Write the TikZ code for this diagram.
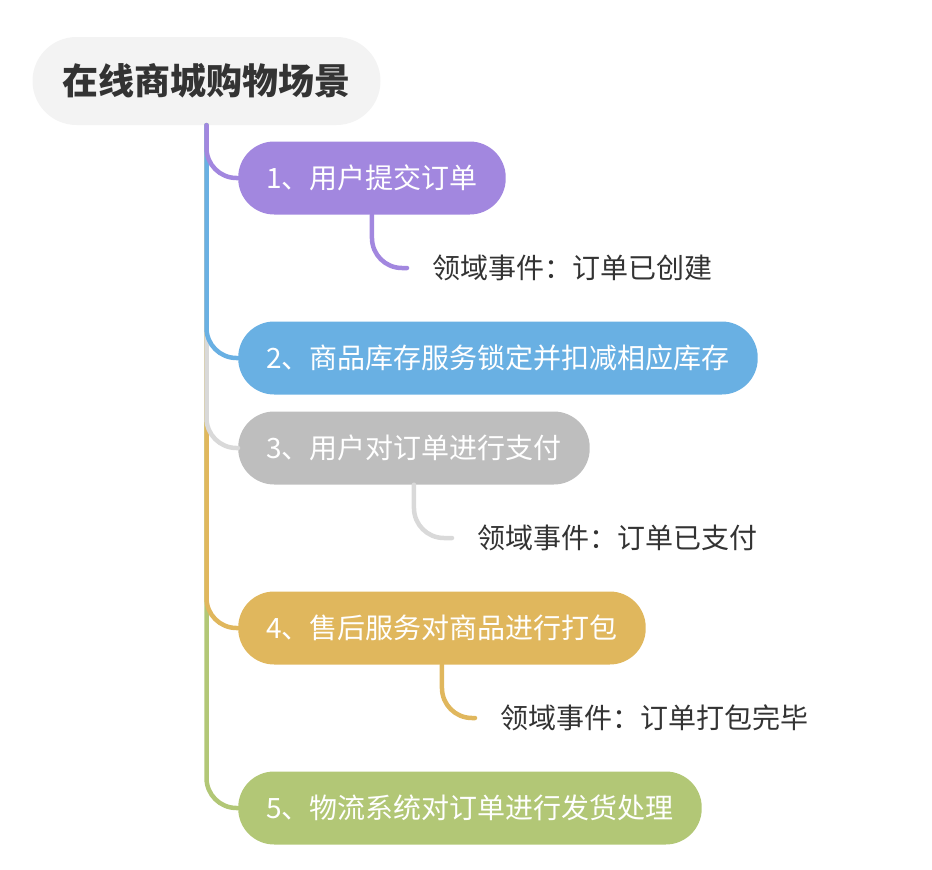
\documentclass[tikz,border=0pt]{standalone}
\usepackage{fontspec}
\usepackage{xcolor}
\newfontfamily\cjk{Noto Sans CJK SC}
\definecolor{rootbg}{HTML}{F3F3F3}
\definecolor{ink}{HTML}{333333}
\definecolor{purp}{HTML}{A287DF}
\definecolor{sky}{HTML}{69B0E3}
\definecolor{ash}{HTML}{BEBEBE}
\definecolor{ashline}{HTML}{D9D9D9}
\definecolor{gold}{HTML}{E0B75D}
\definecolor{leafgreen}{HTML}{B2C776}

\begin{document}
\begin{tikzpicture}[x=1pt,y=-1pt,
  root/.style={fill=rootbg,rounded corners=44pt,minimum height=88pt,inner xsep=30pt,
    text=ink,font=\cjk\bfseries\fontsize{36}{40}\selectfont},
  branch/.style={fill=#1,rounded corners=36pt,minimum height=73pt,inner xsep=28pt,
    anchor=west,text=white,font=\cjk\fontsize{28}{32}\selectfont},
  leaf/.style={anchor=west,inner xsep=25pt,text=ink,font=\cjk\fontsize{28}{32}\selectfont},
  link/.style={draw=#1,line width=4.5pt,line cap=round,rounded corners=30pt}]
\useasboundingbox (0,0) rectangle (932,870);

% main topic and branches
\node[root] (root) at (206.5,81) {在线商城购物场景};
\node[branch=purp] (n1) at (238,178) {1、用户提交订单};
\node[branch=sky] (n2) at (238,358) {2、商品库存服务锁定并扣减相应库存};
\node[branch=ash] (n3) at (238,448) {3、用户对订单进行支付};
\node[branch=gold] (n4) at (238,628) {4、售后服务对商品进行打包};
\node[branch=leafgreen] (n5) at (238,808) {5、物流系统对订单进行发货处理};

% events
\node[leaf] (e1) at (407,268) {领域事件：订单已创建};
\node[leaf] (e3) at (452,538) {领域事件：订单已支付};
\node[leaf] (e4) at (475,718) {领域事件：订单打包完毕};

% trunk, last branch first so the upper ones lie on top
\draw[link=leafgreen] (root.south) |- (n5.west);
\draw[link=gold] (root.south) |- (n4.west);
\draw[link=ashline] (root.south) |- (n3.west);
\draw[link=sky] (root.south) |- (n2.west);
\draw[link=purp] (root.south) |- (n1.west);

\draw[link=purp] (n1.south) |- (e1.west);
\draw[link=ashline] (n3.south) |- (e3.west);
\draw[link=gold] (n4.south) |- (e4.west);
\end{tikzpicture}
\end{document}
